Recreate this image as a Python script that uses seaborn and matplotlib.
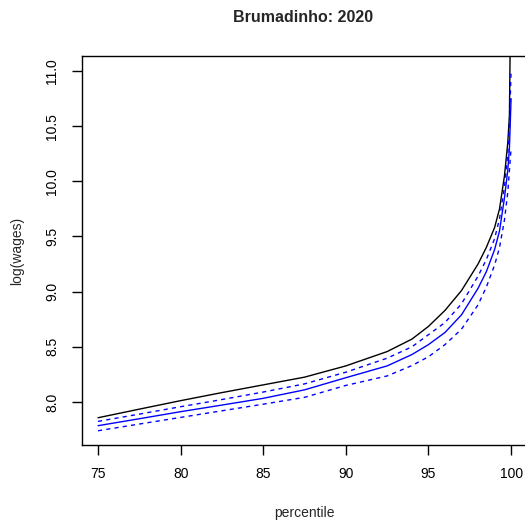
import matplotlib
matplotlib.use("Agg")
import matplotlib.pyplot as plt
import seaborn as sns
import pandas as pd

# percentiles at which values were read
pct      = [75, 77.5, 80, 82.5, 85, 87.5, 90, 92.5, 94, 95, 96, 97, 98, 98.5, 99, 99.3, 99.6, 99.8, 99.9, 100]
observed = [7.857, 7.935, 8.012, 8.085, 8.155, 8.225, 8.327, 8.457, 8.57, 8.685, 8.83, 9.01, 9.25, 9.4, 9.58, 9.75, 10.05, 10.35, 10.6, 12.0]
fitted   = [7.785, 7.848, 7.912, 7.972, 8.033, 8.11, 8.22, 8.327, 8.43, 8.52, 8.63, 8.79, 9.03, 9.18, 9.38, 9.55, 9.85, 10.1, 10.3, 10.75]
upper    = [7.824, 7.89, 7.957, 8.022, 8.09, 8.164, 8.27, 8.397, 8.5, 8.61, 8.72, 8.89, 9.14, 9.29, 9.48, 9.66, 9.95, 10.25, 10.5, 11.0]
lower    = [7.739, 7.80, 7.86, 7.92, 7.98, 8.042, 8.15, 8.236, 8.33, 8.41, 8.52, 8.66, 8.88, 9.04, 9.24, 9.4, 9.65, 9.9, 10.1, 10.3]

xticks = [75, 80, 85, 90, 95, 100]
yticks = [8.0, 8.5, 9.0, 9.5, 10.0, 10.5, 11.0]
title = "Brumadinho: 2020"
xlabel = "percentile"
ylabel = "log(wages)"

sns.set_style("ticks")
plt.rcParams["font.family"] = ["Liberation Sans", "DejaVu Sans"]

df = pd.DataFrame({"pct": pct, "observed": observed, "fitted": fitted,
                   "upper": upper, "lower": lower})

W, H = 525, 527
fig = plt.figure(figsize=(W / 100, H / 100), dpi=100)
left, right, top, bottom = 81.5, 527.6, 56, 445
ax = fig.add_axes([left / W, 1 - bottom / H, (right - left) / W, (bottom - top) / H])

sns.lineplot(data=df, x="pct", y="observed", ax=ax, color="black", lw=1, estimator=None)
sns.lineplot(data=df, x="pct", y="fitted", ax=ax, color="blue", lw=1, estimator=None)
sns.lineplot(data=df, x="pct", y="upper", ax=ax, color="blue", lw=1, ls=(0, (3, 3)), estimator=None)
sns.lineplot(data=df, x="pct", y="lower", ax=ax, color="blue", lw=1, ls=(0, (3, 3)), estimator=None)

ax.set_xlim(74, 101)
ax.set_ylim(7.61, 11.136)
ax.set_xticks(xticks)
ax.set_xticklabels([str(t) for t in xticks])
ax.set_yticks(yticks)
ax.set_yticklabels([f"{t:.1f}" for t in yticks], rotation=90, va="center")
ax.tick_params(direction="out", length=7.2, width=1, labelsize=10, colors="black", pad=9)
for s in ax.spines.values():
    s.set_visible(True)
    s.set_color("black")
    s.set_linewidth(1)

ax.set_xlabel(xlabel, fontsize=10, labelpad=18)
ax.set_ylabel(ylabel, fontsize=10, labelpad=15)
fig.text(303 / W, 1 - 18 / H, title, ha="center", va="center", fontsize=11.5, fontweight="bold")

fig.savefig("out.png", dpi=100, facecolor="white")
